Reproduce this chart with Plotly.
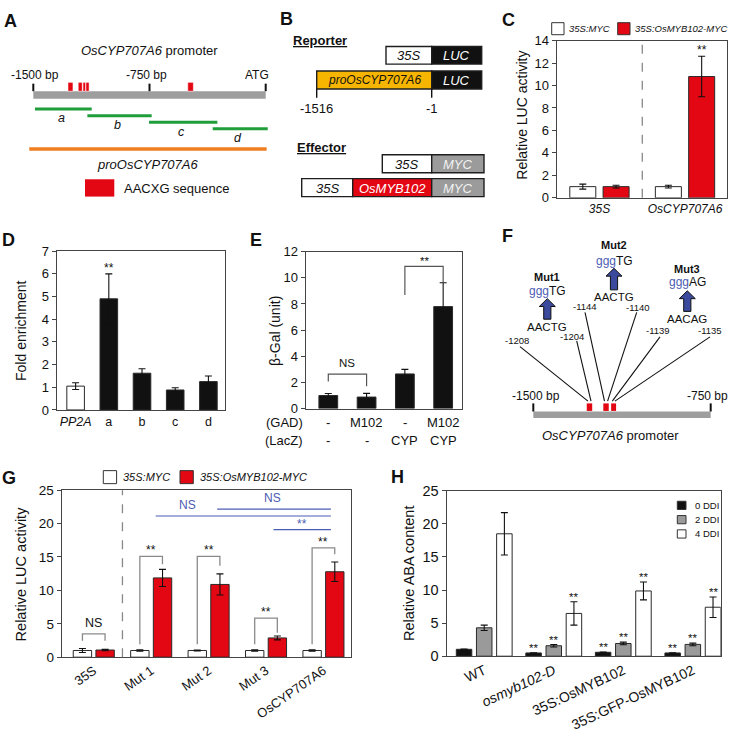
import plotly.graph_objects as go

W, H = 731, 751
FONT = "Liberation Sans, Arial, Helvetica, sans-serif"
RED = "#e30713"
BLK = "#111111"
FRAME = "#444444"
GRAY_BAR = "#9a9a9a"
WHITE = "#ffffff"
BLUE = "#3b4a9c"
BLUE_TXT = "#4b5cb3"
ORANGE = "#ef7d22"
GREEN = "#1f9e3a"
GOLD = "#f7b500"
PROM = "#9e9e9e"
MYC_GRAY = "#9b9b9b"
BRK = "#8a8a8a"

# ------------------------------------------------------------------ data
A_prom = [-1500, 0]
A_tick_bp = [-1500, -750, 0]
A_tick_txt = ["-1500 bp", "-750 bp", "ATG"]
A_motif_start = [-1276, -1210, -1179, -1160, -503]
A_motif_end = [-1244, -1184, -1162, -1140, -467]
A_frag = ["a", "b", "c", "d"]
A_frag_start = [-1489, -1151, -753, -342]
A_frag_end = [-1123, -736, -312, 13]
A_full = [-1526, 6]

B_reporter = [["35S", "LUC"], ["proOsCYP707A6", "LUC"]]
B_effector = [["35S", "MYC"], ["35S", "OsMYB102", "MYC"]]
B_coords = ["-1516", "-1"]

C_groups = ["35S", "OsCYP707A6"]
C_myc = [1.0, 1.0]
C_myc_err = [0.22, 0.12]
C_myb = [1.0, 10.8]
C_myb_err = [0.12, 1.8]
C_sig = ["", "**"]
LEG_NAMES = ["35S:MYC", "35S:OsMYB102-MYC"]

D_cats = ["PP2A", "a", "b", "c", "d"]
D_vals = [1.05, 4.9, 1.62, 0.88, 1.25]
D_err = [0.15, 1.1, 0.2, 0.1, 0.25]
D_sig = ["", "**", "", "", ""]

E_vals = [1.0, 0.88, 2.65, 7.8]
E_err = [0.15, 0.28, 0.35, 1.83]
E_gad = ["-", "M102", "-", "M102"]
E_lacz = ["-", "-", "CYP", "CYP"]
E_br_pairs = [(0, 1), (2, 3)]
E_br_top = [2.64, 10.87]
E_br_left = [2.07, 8.68]
E_br_right = [1.7, 9.68]
E_br_lab = ["NS", "**"]

F_range = [-1500, -750]
F_motif_start = [-1274, -1204, -1171]
F_motif_end = [-1251, -1181, -1150]
F_mut = ["Mut1", "Mut2", "Mut3"]
F_wt = ["AACTG", "AACTG", "AACAG"]
F_new = ["TG", "TG", "AG"]
F_pos = [["-1208", "-1204"], ["-1144", "-1140"], ["-1139", "-1135"]]

G_cats = ["35S", "Mut 1", "Mut 2", "Mut 3", "OsCYP707A6"]
G_myc = [1.0, 1.0, 1.0, 1.0, 1.0]
G_myc_err = [0.3, 0.12, 0.08, 0.1, 0.1]
G_myb = [1.07, 11.87, 10.89, 2.88, 12.79]
G_myb_err = [0.1, 1.28, 1.58, 0.29, 1.45]
G_br_top = [3.5, 15.1, 15.1, 5.86, 16.35]
G_br_left = [2.44, 1.95, 1.95, 1.95, 1.95]
G_br_right = [2.44, 13.9, 13.7, 3.66, 15.4]
G_br_lab = ["NS", "**", "**", "**", "**"]
G_cmp_x0 = [1.08, 2.15, 3.13]
G_cmp_x1 = [4.13, 4.13, 4.13]
G_cmp_y = [21.14, 22.17, 19.1]
G_cmp_lab = ["NS", "NS", "**"]
G_cmp_lab_x = [1.63, 3.12, 3.62]

H_cats = ["WT", "<i>osmyb102-D</i>", "35S:OsMYB102", "35S:GFP-OsMYB102"]
H_leg = ["0 DDI", "2 DDI", "4 DDI"]
H0 = [1.04, 0.49, 0.59, 0.49]
H0_err = [0.05, 0.04, 0.05, 0.03]
H2 = [4.29, 1.58, 1.92, 1.78]
H2_err = [0.4, 0.18, 0.2, 0.2]
H4 = [18.5, 6.46, 9.86, 7.4]
H4_err = [3.2, 1.77, 1.35, 1.55]
H_sig = ["", "**", "**", "**"]


# ------------------------------------------------------------------ helpers
def fx(p):
    return p / W


def fy(p):
    return 1 - p / H


fig = go.Figure()
shapes = []
ann = []


def txt(x, y, s, size=12, color=BLK, xref="paper", yref="paper", xanchor="center",
        yanchor="middle", angle=0, **kw):
    ann.append(dict(x=x, y=y, xref=xref, yref=yref, text=s, showarrow=False,
                    font=dict(family=FONT, size=size, color=color), xanchor=xanchor,
                    yanchor=yanchor, textangle=angle, **kw))


def tpx(px, py, s, **kw):
    txt(fx(px), fy(py), s, **kw)


def rect_px(x0, y0, x1, y1, fill, lc=None, lw=0):
    shapes.append(dict(type="rect", xref="paper", yref="paper", x0=fx(x0), x1=fx(x1),
                       y0=fy(y1), y1=fy(y0), fillcolor=fill,
                       line=dict(color=lc or fill, width=lw), layer="above"))


def line_px(x0, y0, x1, y1, color=BLK, width=1.2, dash=None):
    shapes.append(dict(type="line", xref="paper", yref="paper", x0=fx(x0), x1=fx(x1),
                       y0=fy(y0), y1=fy(y1), line=dict(color=color, width=width, dash=dash),
                       layer="above"))


def ax_ids(n):
    return ("x", "y") if n == 1 else ("x%d" % n, "y%d" % n)


def add_bars(n, xs, ys, errs, color, offset, width):
    xa, ya = ax_ids(n)
    fig.add_trace(go.Bar(
        x=xs, y=ys, offset=offset, width=width, xaxis=xa, yaxis=ya, showlegend=False,
        marker=dict(color=color, line=dict(color="#2a2a2a", width=1)),
        error_y=dict(type="data", array=errs, visible=True, color=BLK, thickness=1.1, width=3.5)))


def star(n, x, y, s="**", size=12, color=BLK, shift=-3):
    xa, ya = ax_ids(n)
    txt(x, y, s, size=size, color=color, xref=xa, yref=ya, yanchor="bottom", yshift=shift)


def bracket(n, xl, xr, top, yl, yr, color=BRK, width=1.3):
    xa, ya = ax_ids(n)
    shapes.append(dict(type="path", xref=xa, yref=ya,
                       path="M %g,%g L %g,%g L %g,%g L %g,%g" % (xl, yl, xl, top, xr, top, xr, yr),
                       line=dict(color=color, width=width), layer="above"))


layout_axes = {}


def bar_axes(n, xdom, ydom, xrange, yrange, dtick, tickvals=(), ticktext=(), tickangle=0,
             xsize=12.5, ysize=13):
    xa, ya = ax_ids(n)
    kx = "xaxis" if n == 1 else "xaxis%d" % n
    ky = "yaxis" if n == 1 else "yaxis%d" % n
    layout_axes[kx] = dict(domain=[fx(xdom[0]), fx(xdom[1])], range=xrange, anchor=ya,
                           showline=True, mirror=True, linecolor=FRAME, linewidth=1.2,
                           ticks="", showgrid=False, zeroline=False,
                           tickvals=list(tickvals), ticktext=list(ticktext),
                           tickangle=tickangle,
                           tickfont=dict(family=FONT, size=xsize, color=BLK))
    layout_axes[ky] = dict(domain=[fy(ydom[0]), fy(ydom[1])], range=yrange, anchor=xa,
                           dtick=dtick, showline=True, mirror=True, linecolor=FRAME,
                           linewidth=1.2, ticks="outside", ticklen=4, tickcolor=FRAME,
                           showgrid=False, zeroline=False,
                           tickfont=dict(family=FONT, size=ysize, color=BLK))


# ------------------------------------------------------------------ panel labels
for lab, (px, py) in zip("ABCDEFGH", [(10.8, 13), (286.5, 11.7), (508.3, 12.2), (8.3, 237.5),
                                       (255.8, 237.5), (507.5, 233.3), (9.2, 480), (397.5, 479)]):
    tpx(px, py, "<b>%s</b>" % lab, size=18)

# ------------------------------------------------------------------ panel A
A_px0, A_px1 = 33.3, 265.7
A_scale = (A_px1 - A_px0) / (A_prom[1] - A_prom[0])


def bpA(px):
    return (px - A_px0) / A_scale + A_prom[0]


layout_axes["xaxis6"] = dict(domain=[fx(5), fx(285)], range=[bpA(5), bpA(285)], visible=False,
                             anchor="y6")
layout_axes["yaxis6"] = dict(domain=[fy(200), fy(30)], range=[0, 1], visible=False, anchor="x6")

shapes.append(dict(type="rect", xref="x6", yref="paper", x0=A_prom[0], x1=A_prom[1],
                   y0=fy(92.7), y1=fy(85), fillcolor=PROM, line=dict(width=0), layer="above"))
for bp, lab, sh in zip(A_tick_bp, A_tick_txt, [2, -3, 0]):
    shapes.append(dict(type="line", xref="x6", yref="paper", x0=bp, x1=bp, y0=fy(85),
                       y1=fy(77.3), line=dict(color=BLK, width=2), layer="above"))
    if lab == "ATG":
        txt(bp, fy(68.3), lab, size=12, xref="x6", xanchor="right", xshift=5)
    else:
        txt(bp, fy(68.3), lab, size=12, xref="x6", xshift=sh)
for s, e in zip(A_motif_start, A_motif_end):
    shapes.append(dict(type="rect", xref="x6", yref="paper", x0=s, x1=e, y0=fy(85), y1=fy(76),
                       fillcolor=RED, line=dict(color=WHITE, width=0.5), layer="above"))
A_frag_y = [103.3, 110, 116.7, 123.3]
for nm, s, e, yy in zip(A_frag, A_frag_start, A_frag_end, A_frag_y):
    shapes.append(dict(type="line", xref="x6", yref="paper", x0=s, x1=e, y0=fy(yy), y1=fy(yy),
                       line=dict(color=GREEN, width=3), layer="above"))
    txt((s + e) / 2, fy(yy + 9.5), "<i>%s</i>" % nm, size=12.5, xref="x6", xshift=-2)
shapes.append(dict(type="line", xref="x6", yref="paper", x0=A_full[0], x1=A_full[1],
                   y0=fy(144), y1=fy(144), line=dict(color=ORANGE, width=3.5), layer="above"))
txt(sum(A_full) / 2, fy(159.5), "<i>proOsCYP707A6</i>", size=13, xref="x6")
txt(sum(A_prom) / 2, fy(43.3), "<i>OsCYP707A6</i> promoter", size=13, xref="x6")
rect_px(85, 175, 114.3, 192.7, RED)
tpx(121.7, 184, "AACXG sequence", size=13, xanchor="left")

# ------------------------------------------------------------------ panel B
tpx(320, 33.5, "<b><u>Reporter</u></b>", size=13)
tpx(321.7, 142.5, "<b><u>Effector</u></b>", size=13)
SEG_STYLE = {"35S": (WHITE, BLK, 13), "LUC": (BLK, WHITE, 13), "proOsCYP707A6": (GOLD, BLK, 12),
             "MYC": (MYC_GRAY, "#f2f2f2", 13), "OsMYB102": (RED, WHITE, 13)}
B_geo = [(39.3, 57.3, [386, 431.7, 481.7]), (64.3, 82.7, [316.7, 431.7, 481.7]),
         (150, 168.3, [382.3, 431.7, 484]), (174.3, 192.7, [301.7, 352.7, 431.7, 484])]
for row, (y0, y1, xs) in zip(B_reporter + B_effector, B_geo):
    for i, lab in enumerate(row):
        fill, tc, sz = SEG_STYLE[lab]
        rect_px(xs[i], y0, xs[i + 1], y1, fill, lc="#1e1e1e", lw=1.4)
        tpx((xs[i] + xs[i + 1]) / 2, (y0 + y1) / 2 + 0.5, "<i>%s</i>" % lab, size=sz, color=tc)
for xpos, lab in zip([316.7, 431.7], B_coords):
    line_px(xpos, 82.7, xpos, 91.7, color=BLK, width=1.4)
    tpx(xpos, 102.7, lab, size=13)

# ------------------------------------------------------------------ panel C
bar_axes(1, (556.7, 727), (194, 33.3), [-0.5, 1.49], [0, 14], 2,
         tickvals=range(len(C_groups)), ticktext=["<i>%s</i>" % g for g in C_groups], xsize=12)
xc = list(range(len(C_groups)))
add_bars(1, xc, C_myc, C_myc_err, WHITE, -0.347, 0.304)
add_bars(1, xc, C_myb, C_myb_err, RED, 0.042, 0.304)
for i, s in enumerate(C_sig):
    if s:
        star(1, xc[i] + 0.194, C_myb[i] + C_myb_err[i], s)
shapes.append(dict(type="line", xref="x", yref="y domain", x0=0.5, x1=0.5, y0=0, y1=1,
                   line=dict(color="#888888", width=1.3, dash="dash"), layer="above"))
tpx(522, 110, "Relative LUC activity", size=14, angle=-90)
for (bx, tx), nm, col in zip([(551.7, 567), (617.7, 633)], LEG_NAMES, [WHITE, RED]):
    rect_px(bx, 15, bx + 12.3, 27.3, col, lc="#333333", lw=1)
    tpx(tx, 21.3, "<i>%s</i>" % nm, size=9.5, xanchor="left")

# ------------------------------------------------------------------ panel D
bar_axes(2, (56.7, 225), (410.7, 248.5), [-0.57, 4.5], [0, 7], 1,
         tickvals=range(len(D_cats)),
         ticktext=["<i>%s</i>" % D_cats[0]] + D_cats[1:])
xd = list(range(len(D_cats)))
add_bars(2, xd, D_vals, D_err, [WHITE] + [BLK] * (len(D_cats) - 1), -0.265, 0.53)
for i, s in enumerate(D_sig):
    if s:
        star(2, xd[i], D_vals[i] + D_err[i], s)
tpx(21, 330, "Fold enrichment", size=14, angle=-90)

# ------------------------------------------------------------------ panel E
bar_axes(3, (305.7, 462.3), (409.3, 249), [-0.59, 3.5], [0, 12], 2)
layout_axes["xaxis3"]["showticklabels"] = False
xe = list(range(len(E_vals)))
add_bars(3, xe, E_vals, E_err, BLK, -0.245, 0.49)
for (a, b), top, yl, yr, lab in zip(E_br_pairs, E_br_top, E_br_left, E_br_right, E_br_lab):
    bracket(3, a, b, top, yl, yr, color="#555555", width=1.2)
    if lab == "NS":
        star(3, (a + b) / 2, top, lab, size=11.5, shift=3)
    else:
        star(3, (a + b) / 2, top, lab, size=11.5, shift=-3)
tpx(284, 423.5, "(GAD)", size=13)
tpx(284, 442, "(LacZ)", size=13)
for i in xe:
    txt(i, fy(423.5), E_gad[i], size=13, xref="x3")
    txt(i, fy(442), E_lacz[i], size=13, xref="x3")
tpx(275, 330, "β-Gal (unit)", size=14, angle=-90)

# ------------------------------------------------------------------ panel F
F_px0, F_px1 = 533.3, 710.7
F_scale = (F_px1 - F_px0) / (F_range[1] - F_range[0])


def bpF(px):
    return (px - F_px0) / F_scale + F_range[0]


layout_axes["xaxis7"] = dict(domain=[fx(478), fx(731)], range=[bpF(478), bpF(731)],
                             visible=False, anchor="y7")
layout_axes["yaxis7"] = dict(domain=[fy(460), fy(225)], range=[0, 1], visible=False, anchor="x7")
shapes.append(dict(type="rect", xref="x7", yref="paper", x0=F_range[0], x1=F_range[1],
                   y0=fy(419), y1=fy(412.3), fillcolor=PROM, line=dict(width=0), layer="above"))
for bp, lab in zip(F_range, ["-1500 bp", "-750 bp"]):
    shapes.append(dict(type="line", xref="x7", yref="paper", x0=bp, x1=bp, y0=fy(412.3),
                       y1=fy(404), line=dict(color=BLK, width=2), layer="above"))
    txt(bp, fy(396.7), lab, size=12, xref="x7", xshift=3 if lab.startswith("-15") else -3)
for s, e in zip(F_motif_start, F_motif_end):
    shapes.append(dict(type="rect", xref="x7", yref="paper", x0=s, x1=e, y0=fy(411.7),
                       y1=fy(404), fillcolor=RED, line=dict(width=0), layer="above"))
txt(sum(F_range) / 2, fy(436.7), "<i>OsCYP707A6</i> promoter", size=13, xref="x7", xshift=-12)

F_cx = [547.3, 614, 687.3]
F_name_y = [275, 241.7, 266.7]
F_new_y = [289.3, 258.3, 280]
F_arrow = [(297, 318), (266, 288), (289, 310)]
F_wt_y = [326, 296, 318.3]
F_lab_xy = [[(516.7, 339.3), (571.7, 335.5)], [(585, 305.5), (637.5, 306)],
            [(658.3, 329.5), (710, 329.5)]]
F_top_xy = [[(520, 346), (576.7, 340)], [(585, 311), (636.7, 311)], [(660, 336), (710, 336)]]
for k in range(3):
    cx = F_cx[k]
    tpx(cx, F_name_y[k], "<b>%s</b>" % F_mut[k], size=11)
    tpx(cx, F_new_y[k], "<span style='color:%s'>ggg</span>%s" % (BLUE_TXT, F_new[k]), size=12)
    yt, yb = F_arrow[k]
    hh, hw, sw = 8, 8, 3.6
    pts = [(cx - sw, yb), (cx - sw, yt + hh), (cx - hw, yt + hh), (cx, yt), (cx + hw, yt + hh),
           (cx + sw, yt + hh), (cx + sw, yb)]
    path = "M " + " L ".join("%.5f,%.5f" % (fx(a), fy(b)) for a, b in pts) + " Z"
    shapes.append(dict(type="path", xref="paper", yref="paper", path=path, fillcolor=BLUE,
                       line=dict(color="#111111", width=1), layer="above"))
    tpx(cx, F_wt_y[k] - 0.5, F_wt[k], size=11.5)
    edges = [F_motif_start[k] + 5, F_motif_end[k] - 5]
    for j in range(2):
        lx, ly = F_lab_xy[k][j]
        tpx(lx, ly, F_pos[k][j], size=9.5)
        tx_, ty_ = F_top_xy[k][j]
        shapes.append(dict(type="line", xref="x7", yref="paper", x0=edges[j], x1=bpF(tx_),
                           y0=fy(401.7), y1=fy(ty_), line=dict(color=BLK, width=1.1),
                           layer="above"))

# ------------------------------------------------------------------ panel G
bar_axes(4, (61.7, 350.7), (663.3, 492.7), [-0.558, 4.475], [0, 25], 5,
         tickvals=range(len(G_cats)), ticktext=G_cats, tickangle=-35, xsize=13, ysize=13.5)
xg = list(range(len(G_cats)))
add_bars(4, xg, G_myc, G_myc_err, WHITE, -0.357, 0.32)
add_bars(4, xg, G_myb, G_myb_err, RED, 0.038, 0.32)
for i in xg:
    bracket(4, i - 0.197, i + 0.197, G_br_top[i], G_br_left[i], G_br_right[i])
    if G_br_lab[i] == "NS":
        star(4, i, G_br_top[i], "NS", size=12.5, shift=2)
    else:
        star(4, i, G_br_top[i], "**", size=12, shift=-3)
for x0, x1, yv, lab, lx in zip(G_cmp_x0, G_cmp_x1, G_cmp_y, G_cmp_lab, G_cmp_lab_x):
    shapes.append(dict(type="line", xref="x4", yref="y4", x0=x0, x1=x1, y0=yv, y1=yv,
                       line=dict(color=BLUE_TXT, width=1.2), layer="above"))
    if lab == "NS":
        star(4, lx, yv, lab, size=12, color=BLUE_TXT, shift=2)
    else:
        star(4, lx, yv, lab, size=12, color=BLUE_TXT, shift=-3)
shapes.append(dict(type="line", xref="x4", yref="y4 domain", x0=0.5, x1=0.5, y0=0, y1=1,
                   line=dict(color="#888888", width=1.3, dash="dash"), layer="above"))
tpx(20.7, 578, "Relative LUC activity", size=14.5, angle=-90)
for (bx, tx), nm, col in zip([(103.3, 121), (180, 198.3)], LEG_NAMES, [WHITE, RED]):
    rect_px(bx, 472.7, bx + 13.3, 486, col, lc="#333333", lw=1)
    tpx(tx, 479.5, "<i>%s</i>" % nm, size=11, xanchor="left")

# ------------------------------------------------------------------ panel H
bar_axes(5, (446.7, 720.7), (662.3, 493.3), [-0.54, 3.40], [0, 25], 5,
         tickvals=range(len(H_cats)), ticktext=H_cats, tickangle=-25, xsize=14, ysize=14.5)
xh = list(range(len(H_cats)))
for vals, errs, col, off in [(H0, H0_err, BLK, -0.402), (H2, H2_err, GRAY_BAR, -0.112),
                             (H4, H4_err, WHITE, 0.178)]:
    add_bars(5, xh, vals, errs, col, off, 0.223)
    for i in xh:
        if H_sig[i]:
            star(5, i + off + 0.1115, vals[i] + errs[i], H_sig[i], size=11.5)
tpx(408.3, 578, "Relative ABA content", size=14.5, angle=-90)
for k, (nm, col) in enumerate(zip(H_leg, [BLK, GRAY_BAR, WHITE])):
    yc = 508.2 + k * 14.6
    rect_px(677.3, yc - 4.2, 686, yc + 4.2, col, lc="#333333", lw=1)
    tpx(693, yc, nm, size=9.5, xanchor="left")

# ------------------------------------------------------------------ layout
fig.update_layout(
    width=W, height=H, margin=dict(l=0, r=0, t=0, b=0, pad=0),
    paper_bgcolor="white", plot_bgcolor="white", showlegend=False,
    font=dict(family=FONT, size=13, color=BLK),
    shapes=shapes, annotations=ann, **layout_axes)

fig.write_html(
    "out.html",
    config={"displayModeBar": False},
    post_script=("document.documentElement.style.margin='0';"
                 "document.documentElement.style.padding='0';"
                 "document.body.style.margin='0';document.body.style.padding='0';"
                 "document.body.style.overflow='hidden';"))
